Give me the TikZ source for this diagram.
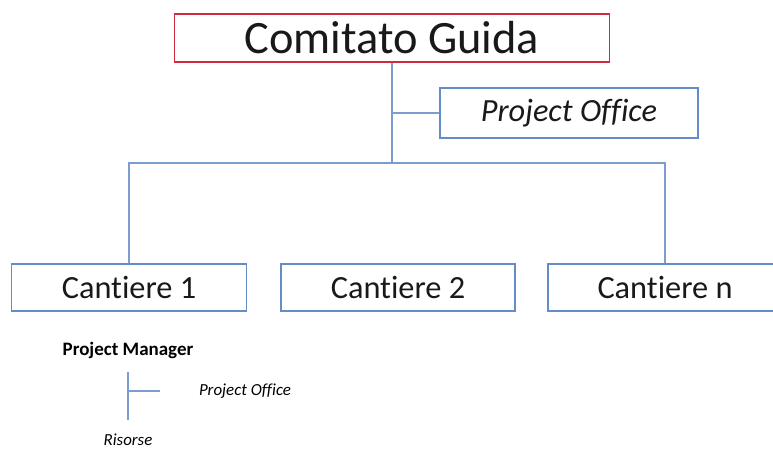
\documentclass[tikz,border=0pt]{standalone}
\usepackage{fontspec}
\setmainfont{Carlito}[RawFeature=-liga]
\definecolor{boxblue}{RGB}{100,140,200}
\definecolor{boxred}{RGB}{205,45,55}
\tikzset{
 unitbox/.style={draw=boxblue, line width=1.3pt, inner sep=0pt, minimum height=47*0.025cm, text=black!90},
 link/.style={draw=boxblue!85, line width=1pt}
}

\begin{document}
\begin{tikzpicture}[x=0.025cm,y=-0.025cm]
 \useasboundingbox (0,0) rectangle (773,450);
 \node[unitbox, draw=boxred, minimum width=435*0.025cm, minimum height=48*0.025cm, font=\fontsize{33}{36}\selectfont] (guida) at (392,38) {Comitato Guida};
 \node[unitbox, minimum width=258*0.025cm, minimum height=50*0.025cm, font=\fontsize{23}{26}\selectfont\itshape] (office) at (569,113) {Project Office};
 \node[unitbox, minimum width=235*0.025cm, font=\fontsize{23}{26}\selectfont] (cant1) at (129,287.5) {Cantiere 1};
 \node[unitbox, minimum width=234*0.025cm, font=\fontsize{23}{26}\selectfont] (cant2) at (398,287.5) {Cantiere 2};
 \node[unitbox, minimum width=234*0.025cm, font=\fontsize{23}{26}\selectfont] (cantn) at (665,287.5) {Cantiere n};
 \coordinate (tap) at (392,113);
 \coordinate (hub) at (392,163);
 \draw[link] (guida.south) -- (hub);
 \draw[link] (tap) -- (office.west);
 \draw[link] (cant1.north) |- (hub) -| (cantn.north);
 % legenda
 \node[font=\fontsize{13.5}{15}\selectfont\bfseries] (pm) at (128,350) {Project Manager};
 \node[font=\fontsize{12}{14}\selectfont\itshape] (pmoffice) at (245,391) {Project Office};
 \node[font=\fontsize{12}{14}\selectfont\itshape] (risorse) at (128,440) {Risorse};
 \coordinate (pmtop) at (128,372);
 \coordinate (pmtap) at (128,391);
 \coordinate (pmend) at (160,391);
 \coordinate (pmbot) at (128,420);
 \draw[link] (pmtop) -- (pmbot);
 \draw[link] (pmtap) -- (pmend);
\end{tikzpicture}
\end{document}
